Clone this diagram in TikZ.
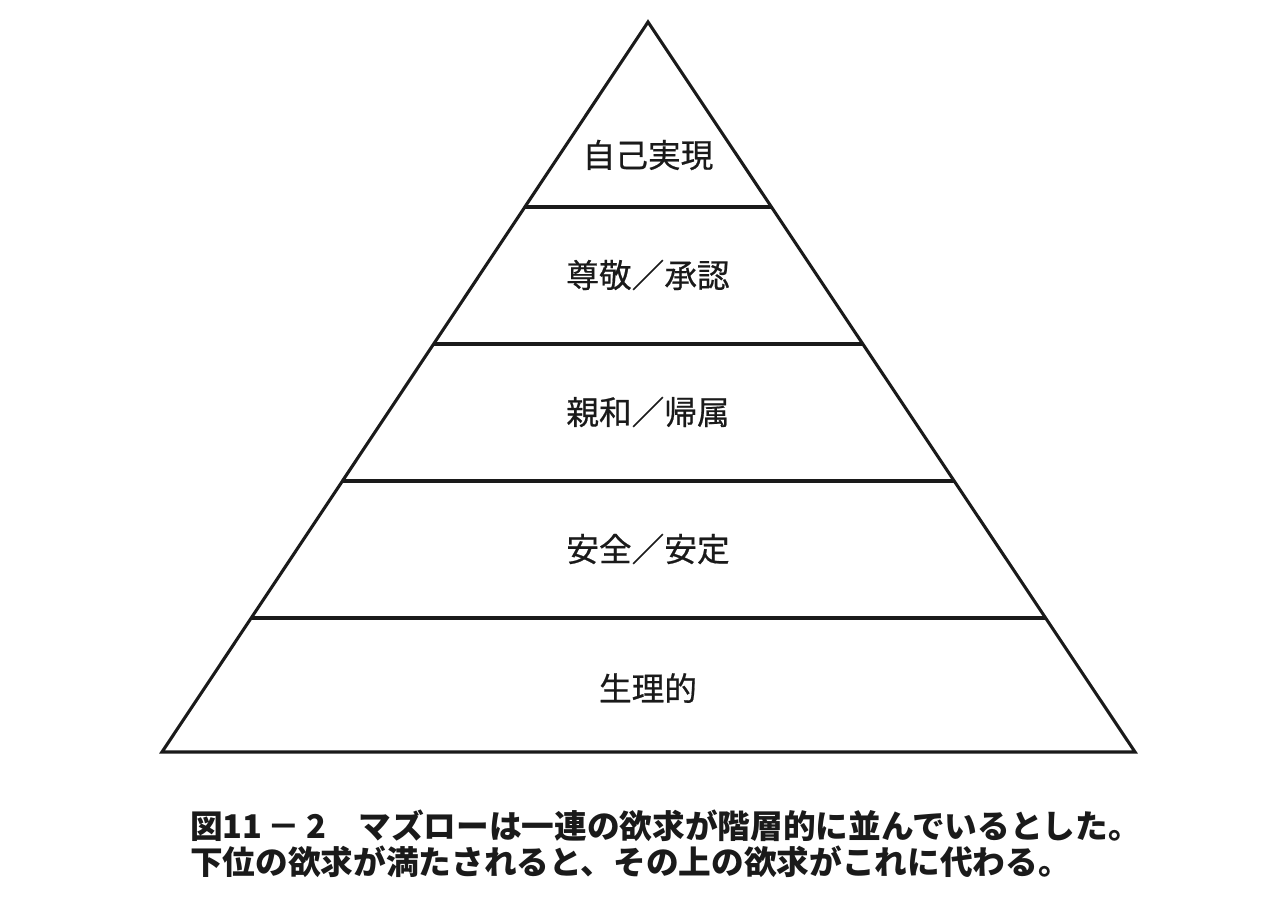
\documentclass[tikz,border=0pt]{standalone}
\usepackage{fontspec}
\usepackage{xcolor}
\usepackage{tikz}
\usetikzlibrary{calc}
\newfontfamily\jpfont{Noto Sans CJK JP}
\newfontfamily\jpmed[FakeBold=0.6]{Noto Sans CJK JP}
\definecolor{ink}{HTML}{1A1A1A}
\definecolor{paper}{HTML}{FFFFFF}
\tikzset{
  edge/.style    = {draw=ink, line width=2.3pt, line join=miter},
  tier/.style    = {font=\fontsize{24.5}{28}\selectfont\jpmed\color{ink}, inner sep=0pt, outer sep=0pt},
  caption/.style = {font=\fontsize{24.5}{28}\selectfont\jpfont\bfseries\color{ink}, anchor=west, inner sep=0pt, outer sep=0pt},
}
\begin{document}
\begin{tikzpicture}[x=0.75pt,y=0.75pt]
\path[use as bounding box, fill=paper] (0,0) rectangle (1280,908);

% ---- pyramid ------------------------------------------------------------
\coordinate (apex) at (648,886);
\coordinate (bl)   at (162,156);
\coordinate (br)   at (1135,156);
\draw[edge] (apex) -- (bl) -- (br) -- cycle;

\foreach \t in {0.2534,0.4411,0.6288,0.8164} {
  \draw[edge] ($(apex)!\t!(bl)$) -- ($(apex)!\t!(br)$);
}

% ---- tiers, top to bottom -------------------------------------------------
\node[tier] (selfact) at (648,753) {自己実現};
\node[tier] (esteem)  at (648,633) {尊敬／承認};
\node[tier] (belong)  at (648,496) {親和／帰属};
\node[tier] (safety)  at (648,359) {安全／安定};
\node[tier] (physio)  at (648,220) {生理的};

% ---- caption ------------------------------------------------------------
\node[caption] (capi)  at (190,82) {図11\,－\,2　マズローは一連の欲求が階層的に並んでいるとした。};
\node[caption] (capii) at (190,46) {下位の欲求が満たされると、その上の欲求がこれに代わる。};

\end{tikzpicture}
\end{document}
